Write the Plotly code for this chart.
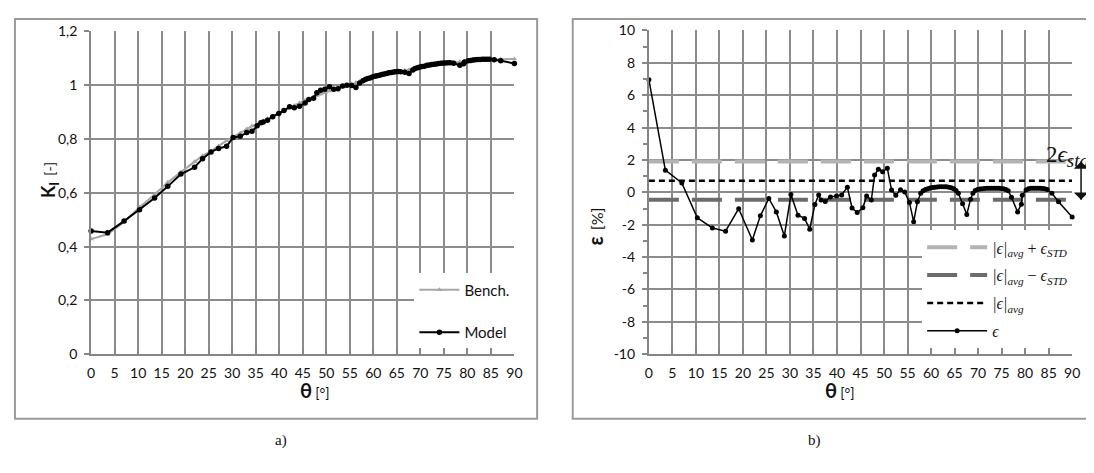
import plotly.graph_objects as go

# ---------------- data ----------------
theta = [0, 3.5, 7.0, 10.3, 13.5, 16.3, 19.1, 22.0, 23.7, 25.5, 27.1, 28.8, 30.2, 31.7, 33.1, 34.2,
         35.3, 36.1, 36.6, 37.5, 38.6, 39.9, 41.0, 42.2, 43.2, 44.3, 45.5, 46.3, 47.3, 48.0, 48.8,
         49.7, 50.7, 51.6, 52.5, 53.5, 54.4, 55.4, 56.3, 57.1, 57.8, 58.3, 58.8, 59.3, 59.8, 60.3,
         60.8, 61.3, 61.8, 62.3, 62.8, 63.3, 63.8, 64.3, 64.8, 65.3, 65.8, 66.7, 67.6, 68.4, 68.9,
         69.4, 69.9, 70.4, 70.9, 71.4, 71.9, 72.4, 72.9, 73.4, 73.9, 74.4, 74.9, 75.4, 75.9, 76.4,
         77.1, 78.4, 79.2, 79.4, 80.2, 80.7, 81.2, 81.7, 82.2, 82.7, 83.2, 83.7, 84.2, 84.7, 85.7,
         87.1, 90]

k_bench = [0.428, 0.446, 0.492, 0.546, 0.594, 0.639, 0.677, 0.716, 0.738, 0.755, 0.774, 0.794,
           0.807, 0.822, 0.837, 0.848, 0.855, 0.862, 0.867, 0.875, 0.885, 0.897, 0.907, 0.917,
           0.925, 0.934, 0.943, 0.949, 0.957, 0.962, 0.967, 0.973, 0.979, 0.984, 0.989, 0.995,
           1.000, 1.005, 1.010, 1.014, 1.018, 1.020, 1.023, 1.025, 1.028, 1.030, 1.032, 1.034,
           1.036, 1.038, 1.040, 1.042, 1.044, 1.046, 1.048, 1.050, 1.051, 1.055, 1.058, 1.061,
           1.063, 1.064, 1.066, 1.068, 1.069, 1.071, 1.072, 1.074, 1.075, 1.076, 1.078, 1.079,
           1.080, 1.081, 1.082, 1.083, 1.085, 1.087, 1.088, 1.088, 1.090, 1.090, 1.091, 1.092,
           1.093, 1.093, 1.094, 1.094, 1.095, 1.095, 1.096, 1.097, 1.098]

k_model = [0.458, 0.452, 0.495, 0.537, 0.581, 0.624, 0.670, 0.695, 0.727, 0.752, 0.765, 0.773,
           0.806, 0.810, 0.824, 0.829, 0.849, 0.861, 0.863, 0.870, 0.883, 0.895, 0.906, 0.920,
           0.916, 0.922, 0.934, 0.947, 0.952, 0.972, 0.981, 0.985, 0.994, 0.985, 0.987, 0.997,
           1.000, 0.999, 0.992, 1.008, 1.017, 1.021, 1.025, 1.027, 1.031, 1.033, 1.035, 1.037,
           1.040, 1.042, 1.044, 1.046, 1.047, 1.049, 1.050, 1.051, 1.050, 1.048, 1.044, 1.057,
           1.062, 1.065, 1.068, 1.070, 1.071, 1.074, 1.075, 1.077, 1.078, 1.079, 1.081, 1.082,
           1.083, 1.083, 1.084, 1.084, 1.082, 1.074, 1.080, 1.086, 1.091, 1.092, 1.094, 1.095,
           1.096, 1.096, 1.097, 1.097, 1.097, 1.097, 1.095, 1.091, 1.081]

err = [6.96, 1.37, 0.58, -1.57, -2.20, -2.40, -1.01, -2.94, -1.45, -0.38, -1.21, -2.70, -0.14,
       -1.41, -1.61, -2.28, -0.75, -0.16, -0.48, -0.56, -0.28, -0.22, -0.16, 0.32, -0.97, -1.25,
       -0.95, -0.22, -0.48, 1.07, 1.43, 1.27, 1.49, 0.14, -0.18, 0.16, 0.02, -0.62, -1.81, -0.58,
       -0.06, 0.10, 0.18, 0.23, 0.27, 0.30, 0.32, 0.33, 0.34, 0.35, 0.35, 0.34, 0.32, 0.28, 0.22,
       0.12, -0.05, -0.71, -1.37, -0.42, -0.06, 0.12, 0.18, 0.21, 0.23, 0.24, 0.25, 0.25, 0.25,
       0.25, 0.25, 0.25, 0.24, 0.22, 0.18, 0.10, -0.30, -1.21, -0.73, -0.18, 0.14, 0.22, 0.25,
       0.26, 0.26, 0.26, 0.25, 0.24, 0.22, 0.17, -0.06, -0.58, -1.53]

theta_span = [0, 90]
err_avg_plus_std = [1.90, 1.90]
err_avg_minus_std = [-0.45, -0.45]
err_avg = [0.72, 0.72]

x_ticks = list(range(0, 91, 5))
y2_tickvals = [-10, -8, -6, -4, -2, 0, 2, 4, 6, 8, 10]
y2_ticktext = ["-10", "-8", "-6", "-4", "-2", "0", "2", "4", "6", "8", "10"]

# ---------------- figure ----------------
# the page body has an 8px margin, so the figure is 8px smaller and positions are offset
OFF = 8
W, H = 1094 - OFF, 473 - OFF
def px_x(p):
    return (p - OFF) / W
def px_y(p):
    return 1 - (p - OFF) / H

GRID = "#8c8c8c"
AX = "#868686"
FONT = "Lato"

fig = go.Figure()

fig.add_trace(go.Scatter(x=theta, y=k_bench, name="Bench.", mode="lines+markers",
                         line=dict(color="#a6a6a6", width=2),
                         marker=dict(symbol="triangle-up", size=5, color="#a6a6a6"),
                         xaxis="x", yaxis="y", legend="legend", cliponaxis=False,
                         legendgroup="b"))
fig.add_trace(go.Scatter(x=theta, y=k_model, name="Model", mode="lines+markers",
                         line=dict(color="#000000", width=2),
                         marker=dict(symbol="circle", size=5.5, color="#000000"),
                         xaxis="x", yaxis="y", legend="legend", cliponaxis=False,
                         legendgroup="m"))

math_font = dict(family="Liberation Serif", size=16, color="#111")
fig.add_trace(go.Scatter(x=theta_span, y=err_avg_plus_std, mode="lines",
                         name="<i>|ϵ|<sub>avg</sub></i> + <i>ϵ<sub>STD</sub></i>",
                         line=dict(color="#b3b3b3", width=4, dash="30px,13px"),
                         xaxis="x2", yaxis="y2", legend="legend2", legendgroup="a"))
fig.add_trace(go.Scatter(x=theta_span, y=err_avg_minus_std, mode="lines",
                         name="<i>|ϵ|<sub>avg</sub></i> − <i>ϵ<sub>STD</sub></i>",
                         line=dict(color="#6b6b6b", width=4, dash="30px,13px"),
                         xaxis="x2", yaxis="y2", legend="legend2", legendgroup="b2"))
fig.add_trace(go.Scatter(x=theta_span, y=err_avg, mode="lines",
                         name="<i>|ϵ|<sub>avg</sub></i>",
                         line=dict(color="#000000", width=2.5, dash="6px,4px"),
                         xaxis="x2", yaxis="y2", legend="legend2", legendgroup="c"))
fig.add_trace(go.Scatter(x=theta, y=err, mode="lines+markers", name="<i>ϵ</i>",
                         line=dict(color="#000000", width=1.5),
                         marker=dict(symbol="circle", size=5, color="#000000"),
                         xaxis="x2", yaxis="y2", legend="legend2", cliponaxis=False,
                         legendgroup="d"))

xaxis_common = dict(range=[0, 90], tickvals=x_ticks, showgrid=True, gridcolor=GRID, gridwidth=2,
                    showline=True, linecolor=AX, linewidth=2, zeroline=False,
                    ticks="inside", ticklen=5, tickwidth=2, tickcolor=AX,
                    tickfont=dict(family=FONT, size=14, color="#111"), ticklabelstandoff=5,
                    fixedrange=True)
yaxis_common = dict(showgrid=True, gridcolor=GRID, gridwidth=2, showline=True, linecolor=AX,
                    linewidth=2, zeroline=False, ticks="outside", ticklen=5, tickwidth=2,
                    tickcolor=AX, tickfont=dict(family=FONT, size=14, color="#111"),
                    ticklabelstandoff=4, fixedrange=True)

fig.update_layout(
    width=W, height=H, margin=dict(l=0, r=0, t=0, b=0),
    paper_bgcolor="white", plot_bgcolor="white",
    separators=", ",
    showlegend=True,
    xaxis=dict(domain=[px_x(88), px_x(516)], anchor="y", **xaxis_common),
    yaxis=dict(domain=[px_y(358), px_y(23)], anchor="x", range=[0, 1.2], dtick=0.2,
               **yaxis_common),
    xaxis2=dict(domain=[px_x(652), px_x(1080)], anchor="y2", **xaxis_common),
    yaxis2=dict(domain=[px_y(358), px_y(22)], anchor="x2", range=[-10, 10],
                tickvals=y2_tickvals, ticktext=y2_ticktext,
                minor=dict(dtick=1, ticks="outside", ticklen=4, tickcolor=AX, showgrid=False),
                **yaxis_common),
    legend=dict(x=px_x(516), xanchor="right", y=px_y(352), yanchor="bottom",
                bgcolor="white", borderwidth=0, traceorder="grouped", tracegroupgap=20,
                font=dict(family=FONT, size=15, color="#111"), entrywidth=70,
                itemwidth=40),
    legend2=dict(x=px_x(1080), xanchor="right", y=px_y(352), yanchor="bottom",
                 bgcolor="white", borderwidth=0, traceorder="grouped", tracegroupgap=4,
                 font=math_font, entrywidth=92, itemwidth=60),
)

# outer frames
fig.add_shape(type="rect", xref="paper", yref="paper", x0=px_x(11), x1=px_x(539),
              y0=px_y(425), y1=px_y(10), line=dict(color="#9a9a9a", width=2))
fig.add_shape(type="rect", xref="paper", yref="paper", x0=px_x(575), x1=px_x(1110),
              y0=px_y(425), y1=px_y(10), line=dict(color="#9a9a9a", width=2))

# axis titles
fig.add_annotation(xref="paper", yref="paper", x=px_x(297), y=px_y(410), showarrow=False,
                   text="<b><span style='font-size:20px'>θ</span></b> <span style='font-size:14px'>[°]</span>",
                   font=dict(family=FONT, color="#111"))
fig.add_annotation(xref="paper", yref="paper", x=px_x(862), y=px_y(410), showarrow=False,
                   text="<b><span style='font-size:20px'>θ</span></b> <span style='font-size:14px'>[°]</span>",
                   font=dict(family=FONT, color="#111"))
fig.add_annotation(xref="paper", yref="paper", x=px_x(32), y=px_y(177), showarrow=False,
                   textangle=-90,
                   text="<b><span style='font-size:18px'>K<sub>I</sub></span></b>  <span style='font-size:14px'>[-]</span>",
                   font=dict(family=FONT, color="#111"))
fig.add_annotation(xref="paper", yref="paper", x=px_x(598), y=px_y(225), showarrow=False,
                   textangle=-90,
                   text="<b><span style='font-size:20px'>ε</span></b>  <span style='font-size:16px'>[%]</span>",
                   font=dict(family=FONT, color="#111"))

# panel labels
fig.add_annotation(xref="paper", yref="paper", x=px_x(272), y=px_y(458), showarrow=False,
                   text="a)", font=dict(family="Liberation Serif", size=15, color="#111"))
fig.add_annotation(xref="paper", yref="paper", x=px_x(828), y=px_y(458), showarrow=False,
                   text="b)", font=dict(family="Liberation Serif", size=15, color="#111"))

# 2 eps_std annotation and double arrow
fig.add_annotation(xref="paper", yref="paper", x=px_x(1052), y=px_y(136), showarrow=False,
                   xanchor="left",
                   text="2<i>ϵ</i><sub><i><span style='font-size:19px'>std</span></i></sub>",
                   font=dict(family="Liberation Serif", size=23, color="#111"))
ARROW_X = px_x(1089)
fig.add_shape(type="line", xref="paper", yref="y2", x0=ARROW_X, x1=ARROW_X,
              y0=err_avg_minus_std[0], y1=err_avg_plus_std[0],
              line=dict(color="#111", width=1.5))
fig.add_annotation(xref="paper", yref="y2", x=ARROW_X, y=err_avg_plus_std[0],
                   ax=0, ay=14, text=" ", showarrow=True, arrowhead=1,
                   arrowsize=1.6, arrowwidth=1.5, arrowcolor="#111", standoff=0)
fig.add_annotation(xref="paper", yref="y2", x=ARROW_X, y=err_avg_minus_std[0],
                   ax=0, ay=-14, text=" ", showarrow=True, arrowhead=1,
                   arrowsize=1.6, arrowwidth=1.5, arrowcolor="#111", standoff=0)

fig.write_html("out.html")
